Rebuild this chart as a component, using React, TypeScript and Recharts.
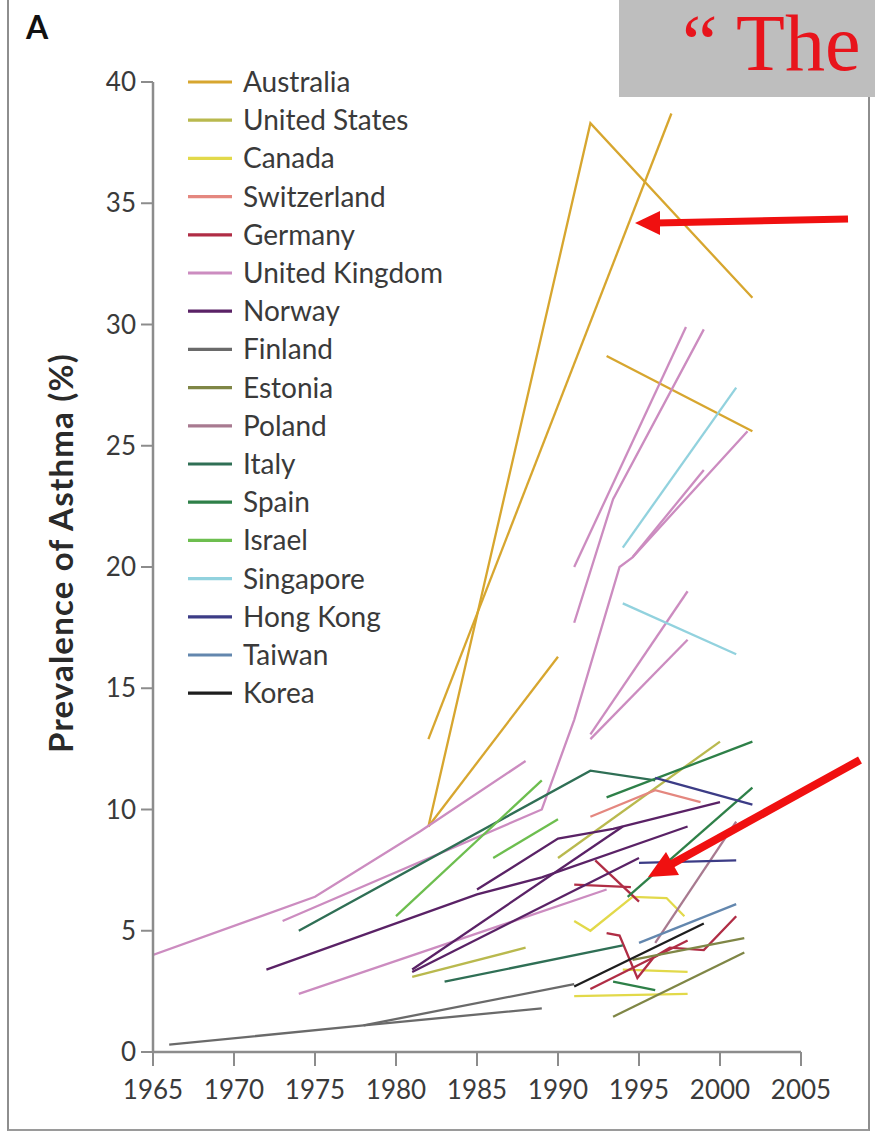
import React from 'react';
import { LineChart, Line, XAxis, YAxis, Legend } from 'recharts';

type Pt = [number, number];
type Seg = Pt[];

// Axis ticks
const xTicks = [1965, 1970, 1975, 1980, 1985, 1990, 1995, 2000, 2005];
const yTicks = [0, 5, 10, 15, 20, 25, 30, 35, 40];

// Survey series per country: each segment is a list of [year, prevalence %]
const australia: Seg[] = [
  [[1982, 9.3], [1992, 38.3], [2002, 31.1]],
  [[1982, 12.9], [1997, 38.7]],
  [[1982, 9.3], [1990, 16.3]],
  [[1993, 28.7], [2002, 25.6]],
];
const unitedStates: Seg[] = [
  [[1981, 3.1], [1988, 4.3]],
  [[1990, 8.0], [2000, 12.8]],
];
const canada: Seg[] = [
  [[1991, 5.4], [1992, 5.0], [1994.6, 6.4], [1996.7, 6.35], [1997.8, 5.6]],
  [[1991, 2.3], [1998, 2.4]],
  [[1994, 3.4], [1998, 3.3]],
];
const switzerland: Seg[] = [
  [[1992, 9.7], [1996, 10.8], [1998.8, 10.3]],
];
const germany: Seg[] = [
  [[1991, 6.9], [1994.5, 6.8]],
  [[1992.3, 7.9], [1995, 6.2]],
  [[1993, 4.9], [1993.8, 4.8], [1994.9, 3.05], [1995.9, 3.9], [1996.9, 4.3], [1999, 4.2], [2001, 5.6]],
  [[1992, 2.6], [1998, 4.6]],
];
const unitedKingdom: Seg[] = [
  [[1965, 4.0], [1975, 6.4], [1981.5, 9.1], [1988, 12.0]],
  [[1973, 5.4], [1989, 10.0], [1991, 13.7], [1993.8, 20.0], [1994.6, 20.4], [2001.7, 25.6]],
  [[1991, 20.0], [1997.9, 29.9]],
  [[1991, 17.7], [1993.4, 22.8], [1999, 29.8]],
  [[1994.6, 20.4], [1999, 24.0]],
  [[1992, 13.1], [1998, 19.0]],
  [[1992, 12.9], [1998, 17.0]],
  [[1974, 2.4], [1993, 6.7]],
];
const norway: Seg[] = [
  [[1972, 3.4], [1985, 6.5], [1989, 7.2], [1998, 9.3]],
  [[1985, 6.7], [1990, 8.8], [1993.4, 9.2], [2000, 10.3]],
  [[1981, 3.4], [1994, 9.3]],
  [[1981, 3.3], [1995, 8.0]],
];
const finland: Seg[] = [
  [[1966, 0.3], [1978, 1.1], [1989, 1.8]],
  [[1978, 1.1], [1991, 2.8]],
];
const estonia: Seg[] = [
  [[1993.4, 1.45], [2001.5, 4.1]],
  [[1994.6, 3.8], [2001.5, 4.7]],
];
const poland: Seg[] = [
  [[1996, 4.5], [2001, 9.5]],
];
const italy: Seg[] = [
  [[1974, 5.0], [1992, 11.6], [1996, 11.2]],
  [[1983, 2.9], [1994, 4.4]],
];
const spain: Seg[] = [
  [[1994.3, 6.4], [2002, 10.9]],
  [[1993, 10.5], [2002, 12.8]],
  [[1993.4, 2.9], [1996, 2.55]],
];
const israel: Seg[] = [
  [[1980, 5.6], [1989, 11.2]],
  [[1986, 8.0], [1990, 9.6]],
];
const singapore: Seg[] = [
  [[1994, 20.8], [2001, 27.4]],
  [[1994, 18.5], [2001, 16.4]],
];
const hongKong: Seg[] = [
  [[1996, 11.3], [2002, 10.2]],
  [[1995, 7.8], [2001, 7.9]],
];
const taiwan: Seg[] = [
  [[1995, 4.5], [2001, 6.1]],
];
const korea: Seg[] = [
  [[1991, 2.7], [1999, 5.3]],
];

const countries = [
  { name: 'Australia', color: '#D7A62F', segments: australia },
  { name: 'United States', color: '#B9B94E', segments: unitedStates },
  { name: 'Canada', color: '#E2D94A', segments: canada },
  { name: 'Switzerland', color: '#E4877F', segments: switzerland },
  { name: 'Germany', color: '#B02D45', segments: germany },
  { name: 'United Kingdom', color: '#CC8CC0', segments: unitedKingdom },
  { name: 'Norway', color: '#5A2266', segments: norway },
  { name: 'Finland', color: '#6A6A6A', segments: finland },
  { name: 'Estonia', color: '#7F8646', segments: estonia },
  { name: 'Poland', color: '#A87A90', segments: poland },
  { name: 'Italy', color: '#2F6F55', segments: italy },
  { name: 'Spain', color: '#2E8048', segments: spain },
  { name: 'Israel', color: '#6DBE4F', segments: israel },
  { name: 'Singapore', color: '#92D2DE', segments: singapore },
  { name: 'Hong Kong', color: '#3C3C86', segments: hongKong },
  { name: 'Taiwan', color: '#6387AE', segments: taiwan },
  { name: 'Korea', color: '#1E1E1E', segments: korea },
];

const TEXT = '#3a3a3a';
const AXIS = '#8c8c8c';
const FONT = 'Lato, "Open Sans", sans-serif';
const ROW = 38.2;

const renderLegend = () => (
  <svg width={320} height={660} style={{ display: 'block' }}>
    {countries.map((c, i) => {
      const y = 19 + i * ROW;
      return (
        <g key={c.name}>
          <line x1={2} x2={46} y1={y} y2={y} stroke={c.color} strokeWidth={3.2} />
          <text x={57} y={y} dy="0.36em" fontSize={28} fontFamily={FONT} fill={TEXT}>
            {c.name}
          </text>
        </g>
      );
    })}
  </svg>
);

const renderYLabel = () => (
  <text
    x={73}
    y={553}
    transform="rotate(-90 73 553)"
    textAnchor="middle"
    fontSize={33}
    letterSpacing={1.2}
    fontWeight={700}
    fontFamily={FONT}
    fill="#2a2a2a"
  >
    Prevalence of Asthma (%)
  </text>
);

export default function App() {
  const series = countries.flatMap((c, ci) =>
    c.segments.map((seg, si) => ({
      key: `${ci}-${si}`,
      color: c.color,
      data: seg.map(([year, v]) => ({ year, v })),
    }))
  );

  return (
    <div
      style={{
        position: 'absolute',
        left: 0,
        top: 0,
        width: 875,
        height: 1141,
        background: '#fff',
        overflow: 'hidden',
        fontFamily: FONT,
      }}
    >
      {/* panel frame */}
      <div
        style={{
          position: 'absolute',
          left: 7,
          top: -4,
          width: 859,
          height: 1133,
          borderLeft: `2.5px solid #8e8e8e`,
          borderRight: `2.5px solid #8e8e8e`,
          borderBottom: `2.5px solid #9a9a9a`,
        }}
      />
      <div
        style={{
          position: 'absolute',
          left: 26,
          top: 7,
          fontSize: 32,
          fontWeight: 700,
          fontFamily: 'Lato, sans-serif',
          color: '#111',
        }}
      >
        A
      </div>
      <div style={{ position: 'absolute', left: 0, top: 0 }}>
        <LineChart width={875} height={1141} margin={{ top: 82, right: 74, bottom: 29, left: 0 }}>
          <XAxis
            type="number"
            dataKey="year"
            domain={[1965, 2005]}
            ticks={xTicks}
            allowDataOverflow
            interval={0}
            height={60}
            axisLine={{ stroke: AXIS, strokeWidth: 2.5 }}
            tickLine={{ stroke: AXIS, strokeWidth: 2 }}
            tickSize={14}
            tickMargin={15}
            tick={{ fill: TEXT, fontSize: 26, fontFamily: FONT }}
          />
          <YAxis
            type="number"
            domain={[0, 40]}
            ticks={yTicks}
            allowDataOverflow
            interval={0}
            width={153}
            axisLine={{ stroke: AXIS, strokeWidth: 2.5 }}
            tickLine={{ stroke: AXIS, strokeWidth: 2 }}
            tickSize={12}
            tickMargin={5}
            tick={{ fill: TEXT, fontSize: 26, fontFamily: FONT }}
            label={{ content: renderYLabel }}
          />
          <Legend
            layout="horizontal"
            align="center"
            verticalAlign="middle"
            wrapperStyle={{ left: 186, top: 63, width: 320, height: 660 }}
            content={renderLegend}
          />
          {series.map((s) => (
            <Line
              key={s.key}
              data={s.data}
              dataKey="v"
              type="linear"
              stroke={s.color}
              strokeWidth={2.3}
              dot={false}
              activeDot={false}
              legendType="none"
              isAnimationActive={false}
            />
          ))}
        </LineChart>
      </div>
      {/* callout box and arrows */}
      <svg
        width={875}
        height={1141}
        style={{ position: 'absolute', left: 0, top: 0, pointerEvents: 'none' }}
      >
        <rect x={619} y={0} width={256} height={97} fill="#BEBEBE" />
        <text x={682} y={70} fontSize={80} fontFamily='"Liberation Serif", "Times New Roman", serif' fill="#E8141C">
          {'\u201C The'}
        </text>
        <line x1={848} y1={219} x2={656} y2={223} stroke="#F01010" strokeWidth={7} />
        <polygon points="635,223 660,211 660,235" fill="#F01010" />
        <line x1={860} y1={760} x2={670} y2={865} stroke="#F01010" strokeWidth={8} />
        <polygon points="648,877 679,875 666,852" fill="#F01010" />
      </svg>
    </div>
  );
}
